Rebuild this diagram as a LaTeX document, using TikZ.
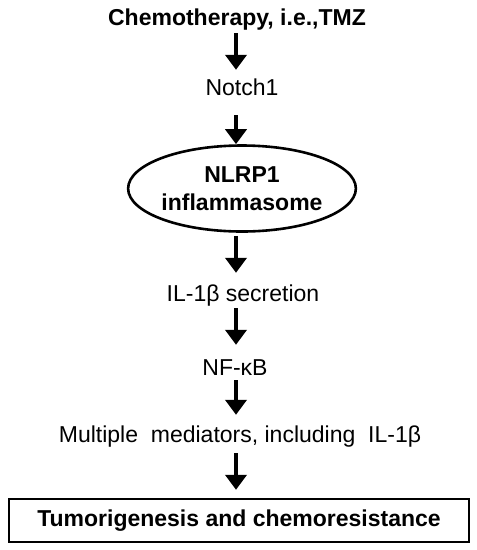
\documentclass[tikz,border=0pt]{standalone}
\usepackage{fontspec}
\setmainfont{Liberation Sans}
\usetikzlibrary{arrows.meta,shapes.geometric}

\begin{document}
\begin{tikzpicture}[x=1pt,y=1pt,font=\fontsize{23}{27}\selectfont,
 >={Triangle[width=21pt,length=15pt]},
 txt/.style={inner sep=0pt,text height=17pt,text depth=5pt,anchor=base},
 oval/.style={draw,ellipse,line width=2.6pt,minimum width=224pt,minimum height=86pt,inner sep=0pt,align=center,font=\fontsize{23}{28}\selectfont\bfseries},
 result/.style={draw,line width=2.4pt,minimum width=460pt,minimum height=43pt,inner sep=0pt,font=\fontsize{23}{27}\selectfont\bfseries},
 arr/.style={->,line width=4pt,shorten <=3pt,shorten >=10pt}]
\useasboundingbox (0,0) rectangle (477,-550);
\node[txt,font=\fontsize{23}{27}\selectfont\bfseries] (chemo) at (237,-25) {Chemotherapy, i.e.,TMZ};
\node[txt] (notch) at (242,-95) {Notch1};
\node[oval] (nlrp) at (242,-188.5) {NLRP1\\inflammasome};
\node[txt] (il) at (243,-301) {IL-1β secretion};
\node[txt] (nfkb) at (235,-375) {NF-κB};
\node[txt] (med) at (240,-442) {Multiple\ \ mediators, including\ \ IL-1β};
\node[result] (tumor) at (239,-520.5) {Tumorigenesis and chemoresistance};
\draw[arr,shorten >=8pt] (chemo.south-|236,0)--(notch.north-|236,0);
\draw[arr,shorten <=15pt,shorten >=0pt] (notch.south-|236,0)--(nlrp.north-|236,0);
\draw[arr,shorten >=11pt] (nlrp.south-|236,0)--(il.north-|236,0);
\draw[arr,shorten <=2pt,shorten >=13pt] (il.south-|236,0)--(nfkb.north-|236,0);
\draw[arr,shorten <=0pt] (nfkb.south-|236,0)--(med.north-|236,0);
\draw[arr,shorten <=6pt,shorten >=8pt] (med.south-|236,0)--(tumor.north-|236,0);
\end{tikzpicture}
\end{document}
